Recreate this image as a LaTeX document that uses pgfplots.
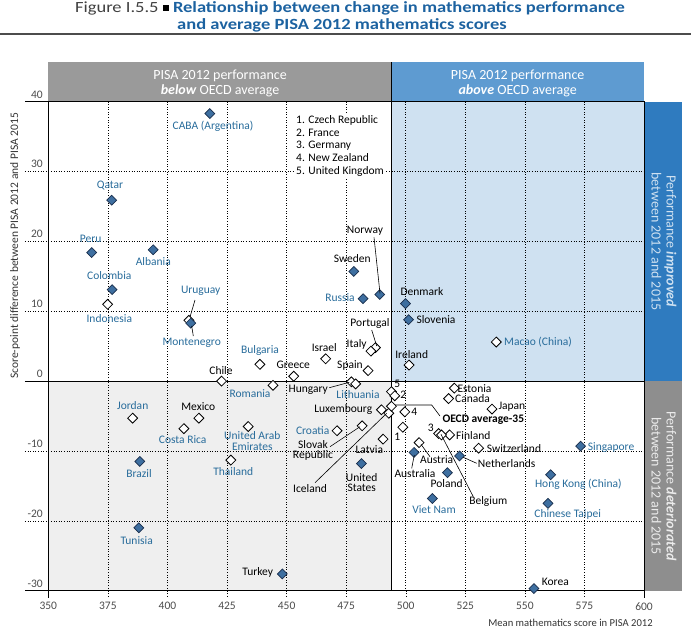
\documentclass[border=0pt]{standalone}
\usepackage{pgfplots}
\pgfplotsset{compat=1.18}
\usepackage{fontspec}
\setmainfont{Carlito}
\definecolor{fillblue}{RGB}{62,111,160}
\definecolor{edgeblue}{RGB}{25,45,75}
\definecolor{labblue}{RGB}{40,108,155}
\definecolor{titleblue}{RGB}{28,98,160}
\definecolor{qblue}{RGB}{207,225,241}
\definecolor{qgray}{RGB}{239,239,239}
\definecolor{hgray}{RGB}{154,154,154}
\definecolor{hblue}{RGB}{94,155,209}
\definecolor{rblue}{RGB}{47,123,191}
\definecolor{rgray}{RGB}{142,142,142}
\tikzset{
  lb/.style={font=\fontsize{11.5}{11}\selectfont, inner sep=0pt, text=black},
  lbb/.style={lb, text=labblue},
  ld/.style={draw=black, line width=0.6pt},
  dl/.style={black, line width=0.6pt, dotted},
  sl/.style={black, line width=1pt},
}
\begin{document}
\begin{tikzpicture}
\begin{scope}[x=1pt,y=1pt]
% quadrant and band fills
\fill[qblue] (391.4,-101.7) rectangle (644,-381.1);
\fill[qgray] (48.3,-381.1) rectangle (391.4,-590.7);
\fill[hgray] (48.3,-62.3) rectangle (391.4,-101.7);
\fill[hblue] (391.4,-62.3) rectangle (644,-101.7);
\fill[rblue] (644,-101.7) rectangle (681.7,-381.1);
\fill[rgray] (644,-381.1) rectangle (681.7,-590.7);
% tick extensions outside the axis box
\draw[sl] (25,-101.7) -- (48.3,-101.7);
\draw[sl] (25,-590.7) -- (48.3,-590.7);
\draw[dl] (25,-171.5) -- (48.3,-171.5);
\draw[dl] (25,-241.3) -- (48.3,-241.3);
\draw[dl] (25,-311.2) -- (48.3,-311.2);
\draw[dl] (25,-451.0) -- (48.3,-451.0);
\draw[dl] (25,-520.9) -- (48.3,-520.9);
\draw[sl] (48.3,-590.7) -- (48.3,-598);
\draw[sl] (644,-590.7) -- (644,-598);
\draw[dl] (107.9,-590.7) -- (107.9,-598);
\draw[dl] (167.5,-590.7) -- (167.5,-598);
\draw[dl] (227.0,-590.7) -- (227.0,-598);
\draw[dl] (286.6,-590.7) -- (286.6,-598);
\draw[dl] (346.2,-590.7) -- (346.2,-598);
\draw[dl] (405.8,-590.7) -- (405.8,-598);
\draw[dl] (465.3,-590.7) -- (465.3,-598);
\draw[dl] (524.9,-590.7) -- (524.9,-598);
\draw[dl] (584.5,-590.7) -- (584.5,-598);
\end{scope}
\begin{axis}[
  at={(48.3pt,-590.7pt)}, anchor=south west,
  scale only axis, width=595.7pt, height=489pt,
  xmin=350, xmax=600, ymin=-30, ymax=40,
  xtick={350,375,...,600}, ytick={-30,-20,...,40},
  grid=major, grid style={black, line width=0.6pt, dotted},
  major tick length=0pt,
  axis line style={black, line width=1pt},
  /pgf/number format/assume math mode=true,
  tick label style={font=\fontsize{11.5}{12}\selectfont, text=black!70},
  xticklabel style={yshift=-8pt},
  yticklabel style={anchor=south east, xshift=-2pt, yshift=0pt},
  clip=false,
]
% solid reference lines
\draw[black, line width=1pt] (axis cs:340.2,0) -- (axis cs:600,0);
\draw[black, line width=1pt] (axis cs:494,-30) -- (axis cs:494,45.64);
% non-significant changes (open diamonds)
\addplot[only marks, mark=square*, mark size=3.5pt,
  mark options={rotate=45, fill=white, draw=black, line width=0.8pt}]
  table {
x y
374.9 11.0
409.0 8.7
422.7 0.0
487.3 4.8
485.4 4.3
466.4 3.2
438.8 2.4
453.0 0.7
484.2 1.5
501.4 2.3
538.0 5.6
444.3 -0.6
477.2 -0.1
479.0 -0.4
494.0 -1.5
495.4 -2.1
520.4 -1.0
518.0 -2.5
536.2 -4.0
499.6 -4.4
498.8 -6.6
489.8 -4.1
492.9 -4.6
490.5 -8.3
481.7 -6.4
471.2 -7.1
518.4 -7.7
513.8 -7.5
515.0 -7.7
530.6 -9.6
505.6 -8.8
385.4 -5.3
413.2 -5.3
406.9 -6.8
433.9 -6.5
426.6 -11.3
494.0 -3.6
};
% significant changes (filled diamonds)
\addplot[only marks, mark=square*, mark size=3.5pt,
  mark options={rotate=45, fill=fillblue, draw=edgeblue, line width=0.7pt}]
  table {
x y
417.8 38.3
376.6 25.9
368.2 18.4
394.0 18.8
376.8 13.1
409.8 8.3
489.1 12.4
478.2 15.7
482.1 11.8
499.9 11.1
501.2 8.8
388.4 -11.5
388.0 -21.0
448.2 -27.6
481.4 -11.8
503.5 -10.2
522.6 -10.7
517.5 -13.1
511.2 -16.8
560.8 -13.4
559.7 -17.5
573.4 -9.3
553.8 -29.7
};
\end{axis}
\begin{scope}[x=1pt,y=1pt]
% header texts
\node[text=white, font=\fontsize{14}{15.3}\selectfont, align=center] at (220,-83.3) {PISA 2012 performance\\\textbf{\textit{below}} OECD average};
\node[text=white, font=\fontsize{14}{15.3}\selectfont, align=center] at (517.7,-83.3) {PISA 2012 performance\\\textbf{\textit{above}} OECD average};
\node[rotate=-90, text=qblue, font=\fontsize{14}{15}\selectfont, align=center] at (664,-241.4) {Performance \textbf{\textit{improved}}\\between 2012 and 2015};
\node[rotate=-90, text=black!8, font=\fontsize{14}{15}\selectfont, align=center] at (664,-486) {Performance \textbf{\textit{deteriorated}}\\between 2012 and 2015};
% title
\node[font=\fontsize{18.5}{15}\selectfont, inner sep=0pt] at (350,-8.5) {\scalebox{1}[0.84]{\textcolor{black!75}{Figure I.5.5} \rule[2.5pt]{6pt}{6pt} \textcolor{titleblue}{\bfseries Relationship between change in mathematics performance}}};
\node[font=\fontsize{18.5}{15}\selectfont, inner sep=0pt, text=titleblue] at (342,-25) {\scalebox{1}[0.84]{\bfseries and average PISA 2012 mathematics scores}};
\draw[black!70, line width=1.2pt] (0,-34) -- (691,-34);
% axis titles
\node[rotate=90, font=\fontsize{11.5}{11}\selectfont, text=black!80] at (15,-246) {Score-point difference between PISA 2012 and PISA 2015};
\node[font=\fontsize{10.6}{11}\selectfont, text=black!80] at (570.5,-623) {Mean mathematics score in PISA 2012};
% key
\node[lb, fill=white, inner sep=2pt, anchor=north west, align=left, font=\fontsize{11.5}{12.9}\selectfont] at (294,-113) {1. Czech Republic\\2. France\\3. Germany\\4. New Zealand\\5. United Kingdom};
% blue labels
\node[lbb] at (213,-126) {CABA (Argentina)};
\node[lbb] at (110,-186) {Qatar};
\node[lbb] at (90.7,-239.3) {Peru};
\node[lbb] at (153.3,-261.7) {Albania};
\node[lbb] at (109.3,-276) {Colombia};
\node[lbb] at (109.3,-319) {Indonesia};
\node[lbb] at (200.7,-291) {Uruguay};
\node[lbb] at (191.7,-342.7) {Montenegro};
\node[lbb] at (340,-297.3) {Russia};
\node[lbb] at (260,-350.7) {Bulgaria};
\node[lbb] at (250,-393.3) {Romania};
\node[lbb] at (358,-394.3) {Lithuania};
\node[lbb, anchor=west] at (504,-341.7) {Macao (China)};
\node[lbb] at (578.3,-484.3) {Hong Kong (China)};
\node[lbb] at (567.7,-514) {Chinese Taipei};
\node[lbb, anchor=west] at (587.7,-447.7) {Singapore};
\node[lbb] at (434,-509.3) {Viet Nam};
\node[lbb] at (132.7,-406) {Jordan};
\node[lbb] at (182.7,-440) {Costa Rica};
\node[lbb, align=center, font=\fontsize{11.5}{10.7}\selectfont] at (252.3,-441.3) {United Arab\\Emirates};
\node[lbb] at (233.3,-471.7) {Thailand};
\node[lbb] at (139,-473.3) {Brazil};
\node[lbb] at (136.7,-540.7) {Tunisia};
\node[lbb] at (312.7,-430.7) {Croatia};
% black labels
\node[lb] at (221,-370.7) {Chile};
\node[lb] at (365,-231) {Norway};
\node[lb] at (352.3,-259) {Sweden};
\node[lb] at (422,-292) {Denmark};
\node[lb] at (436,-319.3) {Slovenia};
\node[lb] at (370,-323.3) {Portugal};
\node[lb] at (356.7,-344.3) {Italy};
\node[lb] at (324.3,-347.3) {Israel};
\node[lb] at (293.3,-365) {Greece};
\node[lb] at (350,-365) {Spain};
\node[lb] at (411.7,-355) {Ireland};
\node[lb] at (308.3,-389.3) {Hungary};
\node[lb] at (397.3,-384.3) {5};
\node[lb] at (403.3,-395) {2};
\node[lb] at (414.3,-411.7) {4};
\node[lb] at (397.3,-436.7) {1};
\node[lb] at (430.7,-428.3) {3};
\node[lb, anchor=west] at (457.3,-388.3) {Estonia};
\node[lb, anchor=west] at (455,-399) {Canada};
\node[lb, anchor=west] at (498.3,-406.7) {Japan};
\node[lb, anchor=west] at (442.3,-420) {\bfseries OECD average-35};
\node[lb, anchor=west] at (456,-436) {Finland};
\node[lb, anchor=west] at (486.7,-448.3) {Switzerland};
\node[lb] at (436.7,-460) {Austria};
\node[lb] at (415,-473.3) {Australia};
\node[lb] at (506.7,-464) {Netherlands};
\node[lb] at (446.7,-484) {Poland};
\node[lb] at (488.3,-501) {Belgium};
\node[lb, anchor=west] at (541.7,-581.7) {Korea};
\node[lb] at (198.3,-406.7) {Mexico};
\node[lb] at (257.7,-572.7) {Turkey};
\node[lb, align=center, font=\fontsize{11.5}{10.7}\selectfont] at (313,-450.3) {Slovak\\Republic};
\node[lb] at (369.3,-449.3) {Latvia};
\node[lb, align=center, font=\fontsize{11.5}{10}\selectfont] at (361.7,-482.3) {United\\States};
\node[lb] at (343.3,-409) {Luxembourg};
\node[lb] at (310,-488.3) {Iceland};
% leader lines
\draw[ld] (195,-300) -- (190,-317);
\draw[ld] (193.3,-336) -- (191.7,-326);
\draw[ld] (374,-237.3) -- (380,-293.3);
\draw[ld] (371.7,-330) -- (376.7,-346);
\draw[ld] (329.3,-387.7) -- (349.3,-382.3);
\draw[ld] (440,-416) -- (431.7,-405) -- (395,-405);
\draw[ld] (430,-456.7) -- (421,-444.3);
\draw[ld] (411.7,-468.3) -- (414.3,-455);
\draw[ld] (476.7,-463.3) -- (463.3,-457.3);
\draw[ld] (473.3,-496.7) -- (441,-434.3);
\draw[ld] (330,-446.7) -- (360,-426.7);
\draw[ld] (315,-482.7) -- (386.7,-413.3);
\end{scope}
\pgfresetboundingbox
\useasboundingbox (0pt,0pt) rectangle (691pt,-629pt);
\end{tikzpicture}
\end{document}
